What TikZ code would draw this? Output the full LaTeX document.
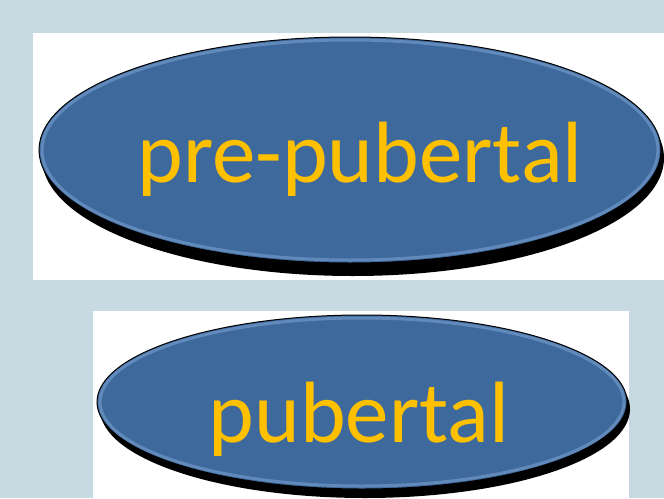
\documentclass[tikz,border=0pt]{standalone}
\usepackage{fontspec}
\setmainfont{Carlito}
\definecolor{bg}{HTML}{C7DAE2}
\definecolor{ellfill}{HTML}{3E699C}
\definecolor{ellrim}{HTML}{7EA6D6}
\definecolor{txt}{HTML}{FFC000}
\tikzset{
  panel/.style={fill=white, draw=none},
  shadowell/.style={fill=black, draw=none},
  mainell/.style={fill=ellfill, draw=black, line width=1pt},
  rimell/.style={draw=ellrim, line width=3pt, opacity=0.55},
  label/.style={text=txt, font=\fontsize{87}{87}\selectfont, inner sep=0pt, anchor=base}
}
\begin{document}
\begin{tikzpicture}[x=1pt, y=-1pt]
\useasboundingbox (0,0) rectangle (664,498);
\fill[bg] (0,0) rectangle (664,498);
% panels
\fill[panel] (33,33) rectangle (664,280);
\fill[panel] (93,311) rectangle (629,498);
% ellipse 1
\fill[shadowell] (353,158) ellipse [x radius=311, y radius=118];
\draw[mainell] (350,150) ellipse [x radius=311, y radius=113];
\draw[rimell] (350,150) ellipse [x radius=308, y radius=110];
\node[label] (pre) at (360,182) {pre-pubertal};
% ellipse 2
\fill[shadowell] (365,409) ellipse [x radius=265, y radius=89];
\draw[mainell] (362,402) ellipse [x radius=265, y radius=87];
\draw[rimell] (362,402) ellipse [x radius=262, y radius=84];
\node[label] (pub) at (359,442) {pubertal};
\end{tikzpicture}
\end{document}
